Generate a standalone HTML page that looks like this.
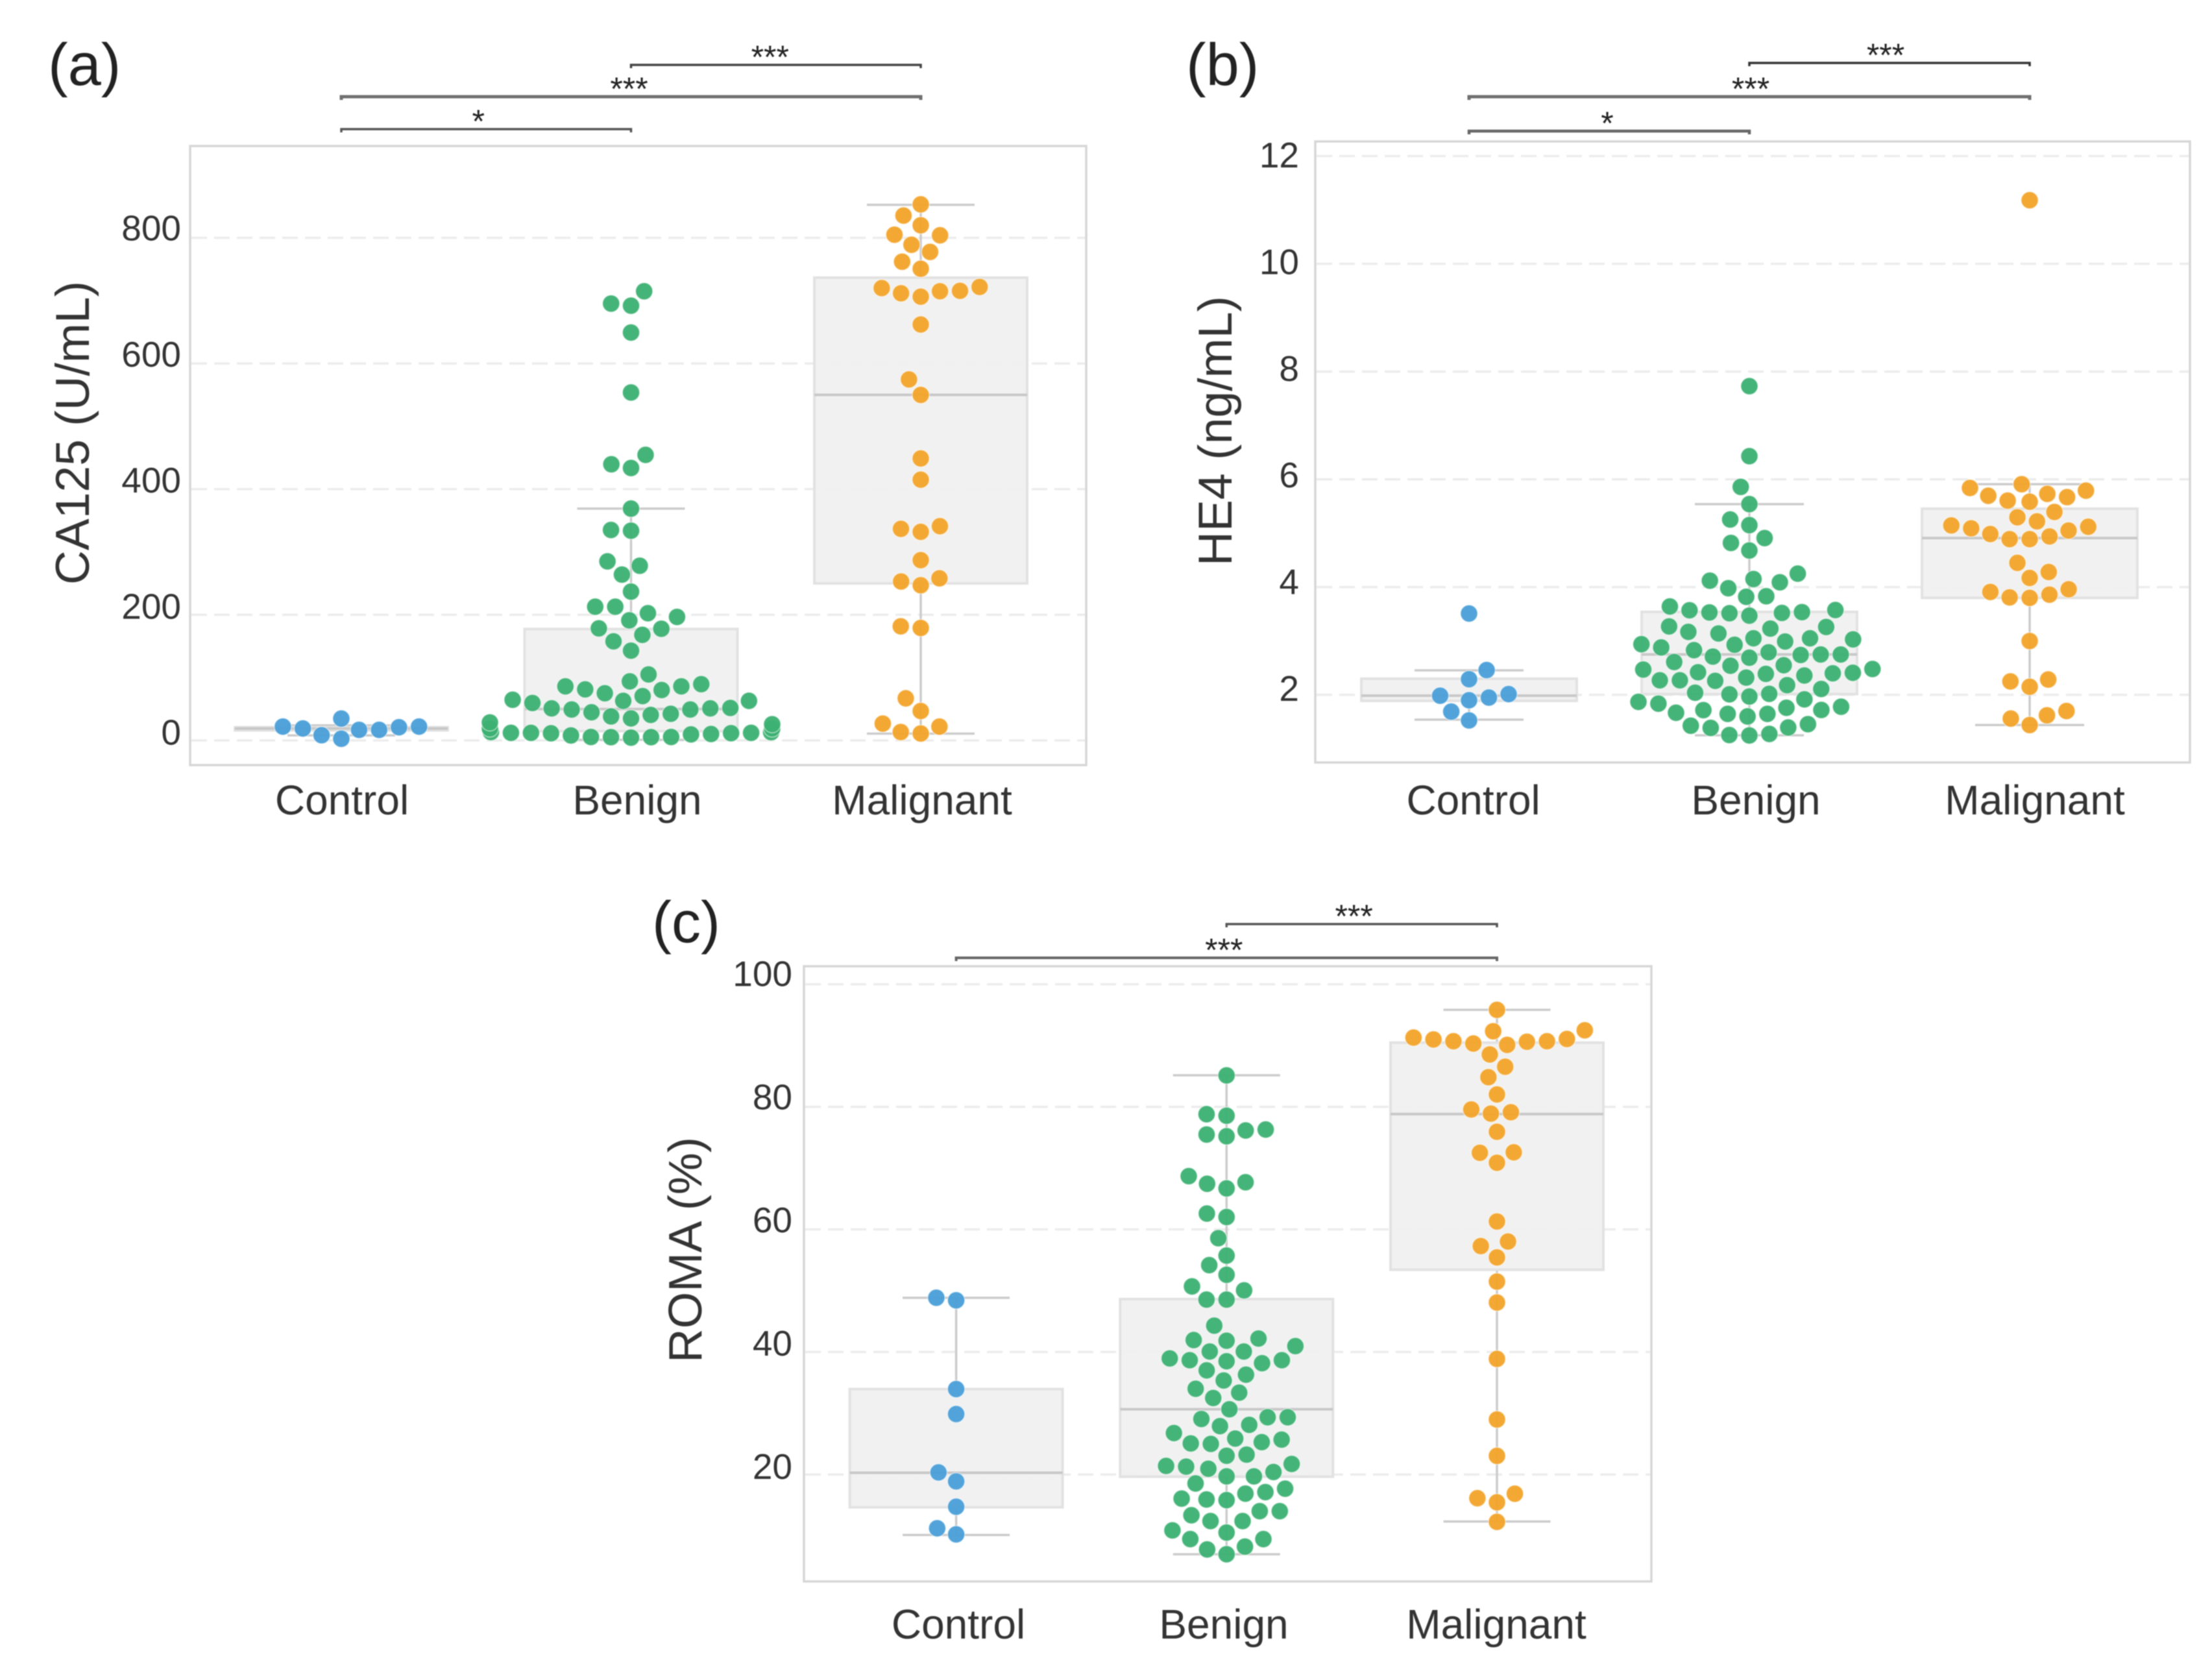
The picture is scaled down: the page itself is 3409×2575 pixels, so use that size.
<!DOCTYPE html>
<html lang="en">
<head>
<meta charset="utf-8">
<title>CA125, HE4 and ROMA by group</title>
<style>
html,body{margin:0;padding:0;background:#fff;}
#figure{display:block;width:3409px;height:2575px;filter:blur(0.8px);font-family:"Liberation Sans",sans-serif;}
</style>
</head>
<body>
<svg id="figure" xmlns="http://www.w3.org/2000/svg" width="3409" height="2575" viewBox="0 0 3409 2575">
<rect x="0" y="0" width="3409" height="2575" fill="#fff"/>
<text x="74" y="131" font-size="92" fill="#222">(a)</text>
<text x="1828" y="131" font-size="92" fill="#222">(b)</text>
<text x="1005" y="1452" font-size="90" fill="#222">(c)</text>
<text transform="translate(137,667) rotate(-90)" text-anchor="middle" font-size="73" fill="#333" textLength="468" lengthAdjust="spacingAndGlyphs">CA125 (U/mL)</text>
<text transform="translate(1898,664) rotate(-90)" text-anchor="middle" font-size="73" fill="#333" textLength="416" lengthAdjust="spacingAndGlyphs">HE4 (ng/mL)</text>
<text transform="translate(1081,1926) rotate(-90)" text-anchor="middle" font-size="72" fill="#333" textLength="348" lengthAdjust="spacingAndGlyphs">ROMA (%)</text>
</svg>
<script>
const categories = ['Control', 'Benign', 'Malignant'];
const sigPairs = [[0, 1, '*'], [0, 2, '***'], [1, 2, '***']];
const romaSigPairs = [[0, 2, '***'], [1, 2, '***']];

const ca125Ticks = [0, 200, 400, 600, 800];
const he4Ticks = [2, 4, 6, 8, 10, 12];
const romaTicks = [20, 40, 60, 80, 100];

/* box summaries: low whisker, Q1, median, Q3, high whisker */
const ca125BoxControl = [8, 16, 19, 21, 24];
const ca125BoxBenign = [1, 14.8, 50, 177.3, 369];
const ca125BoxMalignant = [10.8, 250, 550, 736.6, 852.6];
const he4BoxControl = [1.54, 1.89, 1.985, 2.30, 2.455];
const he4BoxBenign = [1.25, 2.015, 2.75, 3.54, 5.54];
const he4BoxMalignant = [1.44, 3.80, 4.91, 5.455, 5.91];
const romaBoxControl = [10.15, 14.66, 20.29, 33.95, 48.85];
const romaBoxBenign = [7.0, 19.65, 30.66, 48.64, 85.15];
const romaBoxMalignant = [12.34, 53.42, 78.83, 90.48, 95.84];

/* individual measurements */
const ca125Control = [2.7, 8.3, 16.8, 16.8, 19, 21, 22, 22, 34.8];
const ca125Benign = [4.5, 5.2, 5.2, 5.5, 5.5, 7.9, 9.6, 10.3, 11.4, 12.1, 12.1, 12.1, 13.1, 13.3, 11.6,
  18.9, 18.9, 28.6, 25.8,
  35, 38.2, 40.6, 42.4, 44.8, 49.2, 49.2, 51, 51, 51.7, 59.6, 63, 64.7,
  63, 70.6, 75.1, 80.2, 81.3, 86.1, 86.1, 89.5, 94, 105,
  142.9, 157.7, 168, 177.7, 178.4, 191.1, 196.6, 202.5, 212.8, 212.8, 236.9,
  264, 278, 285, 333.8, 335, 369, 433.6, 439.6, 454.5, 553.8, 649.3, 692, 695.4, 715];
const ca125Malignant = [11, 13.4, 22, 26.8, 46.8, 67, 179, 181.6, 247, 253, 258, 287, 332, 336.8, 341, 415, 448.9, 550, 574.6, 662,
  706.3, 711.8, 715, 715.6, 720, 721.8, 750.7, 762, 777.6, 789, 804, 805, 819.9, 835.4, 853.3];

const he4Control = [1.526, 1.69, 1.9, 1.95, 1.985, 2.015, 2.29, 2.46, 3.51];
const he4Benign = [1.247, 1.255, 1.275, 1.387, 1.395, 1.428, 1.456, 1.6, 1.648, 1.648, 1.668, 1.717, 1.72, 1.76, 1.78, 1.837, 1.87, 1.917,
  1.97, 2.01, 2.02, 2.04, 2.11, 2.18, 2.26, 2.27, 2.27, 2.32, 2.36, 2.39, 2.40, 2.41, 2.42, 2.47, 2.48, 2.54, 2.55, 2.61,
  2.69, 2.71, 2.74, 2.75, 2.75, 2.79, 2.83, 2.88, 2.93, 2.94, 2.99, 3.03, 3.05, 3.05, 3.14, 3.17, 3.23, 3.26, 3.27,
  3.47, 3.515, 3.52, 3.53, 3.535, 3.57, 3.575, 3.64, 3.82, 3.83, 3.98, 4.09, 4.12, 4.15, 4.25,
  4.68, 4.82, 4.91, 5.15, 5.255, 5.54, 5.86, 6.43, 7.73];
const he4Malignant = [1.44, 1.56, 1.62, 1.70, 2.15, 2.25, 2.285, 3.0, 3.80, 3.81, 3.86, 3.91, 3.96, 4.17, 4.28, 4.45,
  4.89, 4.89, 4.94, 4.985, 5.05, 5.09, 5.12, 5.145, 5.22, 5.295, 5.395, 5.585, 5.605, 5.67, 5.695, 5.73, 5.79, 5.84, 5.91, 11.18];

const romaControl = [10.24, 11.24, 14.75, 18.89, 20.36, 29.87, 33.95, 48.43, 48.85];
const romaBenign = [7.0, 7.78, 8.24, 9.47, 9.47, 10.54, 10.89, 12.41, 12.41, 13.36, 14.03, 14.03, 15.83, 15.94, 16.08, 16.89, 17.14, 17.7,
  18.55, 19.71, 19.71, 20.42, 20.95, 21.3, 21.41, 21.73, 23.07, 23.25, 25.0, 25.08, 25.29, 25.7, 25.88, 26.77, 27.9, 28.11, 29.07, 29.35, 29.35,
  30.65, 32.49, 33.37, 34.0, 35.35, 36.3, 37.0, 38.17, 38.49, 38.66, 38.66, 38.95, 40.08, 40.08, 40.96, 41.84, 41.95, 42.2, 44.3,
  48.55, 48.55, 50.06, 50.7, 52.6, 54.17, 55.73, 58.57, 62.02, 62.59, 66.7, 67.45, 67.7, 68.7, 75.2, 75.49, 76.15, 76.3, 78.56, 78.8, 85.13];
const romaMalignant = [12.28, 15.47, 16.14, 16.88, 23.05, 28.99, 38.87, 48.07, 51.49, 55.43, 57.28, 58.03, 61.3, 70.88, 72.51, 72.58, 75.93,
  78.9, 79.12, 79.57, 82.02, 84.84, 86.55, 88.55, 90.11, 90.33, 90.63, 90.71, 90.71, 91.0, 91.08, 91.3, 92.34, 92.49, 95.83];

/* HE4 values where the swarm sits on the right side when both sides are equally close */
const he4RightTies = [2.46, 3.98, 5.22];

const svg = document.getElementById('figure');
const NS = 'http://www.w3.org/2000/svg';
const GROUP_COLORS = ['#4a9fd8', '#3db172', '#f3a42c'];
const SWARM_DIAMETER = 29.43;

function make(tag, attrs, parent) {
  const el = document.createElementNS(NS, tag);
  for (const k in attrs) el.setAttribute(k, attrs[k]);
  parent.appendChild(el);
  return el;
}

function linear(d0, d1, r0, r1) {
  return function (v) { return r0 + (v - d0) * (r1 - r0) / (d1 - d0); };
}

/* Same placement rule as a seaborn swarm plot: lowest value first,
   each point goes to the closest-to-centre free slot. */
function beeswarm(values, yScale, cx, halfWidth, rightTies) {
  const sorted = values.slice().sort(function (a, b) { return a - b; });
  const placed = [];
  sorted.forEach(function (v) {
    const y = yScale(v);
    const neighbors = [];
    for (let i = 0; i < placed.length; i++) {
      if (Math.abs(placed[i].y - y) < SWARM_DIAMETER) neighbors.push(placed[i]);
    }
    const candidates = [cx];
    let leftFirst = true;
    neighbors.forEach(function (n) {
      const dy = y - n.y;
      const dx = Math.sqrt(Math.max(SWARM_DIAMETER * SWARM_DIAMETER - dy * dy, 0)) * 1.05;
      if (leftFirst) { candidates.push(n.x - dx, n.x + dx); }
      else { candidates.push(n.x + dx, n.x - dx); }
      leftFirst = !leftFirst;
    });
    const preferRight = rightTies.indexOf(v) !== -1;
    const ordered = candidates.slice().sort(function (a, b) {
      const d = Math.abs(a - cx) - Math.abs(b - cx);
      if (preferRight && Math.abs(d) < 1e-6) return b - a;
      return d;
    });
    let chosen = ordered[ordered.length - 1];
    for (let c = 0; c < ordered.length; c++) {
      const x = ordered[c];
      const free = neighbors.every(function (n) {
        return (n.x - x) * (n.x - x) + (n.y - y) * (n.y - y) >= SWARM_DIAMETER * SWARM_DIAMETER;
      });
      if (free) { chosen = x; break; }
    }
    placed.push({ x: chosen, y: y, v: v });
  });
  placed.forEach(function (p) {
    p.x = Math.min(cx + halfWidth, Math.max(cx - halfWidth, p.x));
  });
  return placed;
}

function drawPanel(cfg) {
  const g = make('g', {}, svg);
  
  
  const f = cfg.frame;
  const yScale = linear(cfg.domain[0], cfg.domain[1], cfg.range[0], cfg.range[1]);
  const labelScale = linear(cfg.domain[0], cfg.domain[1], cfg.labelRange[0], cfg.labelRange[1]);
  const xScale = function (i) { return cfg.x0 + i * cfg.step; };

  const frame = make('rect', { x: f.l, y: f.t, width: f.r - f.l, height: f.b - f.t, fill: '#fff', stroke: '#d6d6d6', 'stroke-width': 3.5 }, g);
  
  

  cfg.ticks.forEach(function (t) {
    const y = yScale(t);
    const grid = make('line', { x1: f.l + 2, x2: f.r - 2, y1: y, y2: y, stroke: '#ececec', 'stroke-width': 3.5, 'stroke-dasharray': '24 11' }, g);
    
    
    const lab = make('text', { x: cfg.labelX, y: labelScale(t), 'text-anchor': 'end', 'font-size': 55, fill: '#333' }, g);
    
    
    lab.textContent = String(t);
  });

  categories.forEach(function (cat, i) {
    const cx = xScale(i);
    const b = cfg.boxes[i];
    const hw = cfg.boxHalf;
    const cap = cfg.capHalf;
    const lineStyle = { stroke: '#cbcbcb', 'stroke-width': 3.5 };

    const wl = make('line', Object.assign({ x1: cx, x2: cx, y1: yScale(b[0]), y2: yScale(b[1]) }, lineStyle), g);
    
    
    const wh = make('line', Object.assign({ x1: cx, x2: cx, y1: yScale(b[3]), y2: yScale(b[4]) }, lineStyle), g);
    
    
    const cl = make('line', Object.assign({ x1: cx - cap, x2: cx + cap, y1: yScale(b[0]), y2: yScale(b[0]) }, lineStyle), g);
    
    
    const ch = make('line', Object.assign({ x1: cx - cap, x2: cx + cap, y1: yScale(b[4]), y2: yScale(b[4]) }, lineStyle), g);
    
    

    const box = make('rect', { x: cx - hw, y: yScale(b[3]), width: 2 * hw, height: yScale(b[1]) - yScale(b[3]), fill: '#f0f0f0', 'fill-opacity': 0.92, stroke: '#e2e2e2', 'stroke-width': 4 }, g);
    
    
    const med = make('line', { x1: cx - hw, x2: cx + hw, y1: yScale(b[2]), y2: yScale(b[2]), stroke: '#c8c8c8', 'stroke-width': 4 }, g);
    
    

    const points = beeswarm(cfg.series[i], yScale, cx, cfg.gutter, cfg.rightTies);
    points.forEach(function (p) {
      const dot = make('circle', { cx: p.x, cy: p.y, r: 13.2, fill: GROUP_COLORS[i], 'fill-opacity': 0.96, stroke: '#fff', 'stroke-opacity': 0.55, 'stroke-width': 1.5 }, g);
      
      
    });

    const xl = make('text', { x: cfg.labelCenters[i], y: cfg.catBaseline, 'text-anchor': 'middle', 'font-size': 64, fill: '#333' }, g);
    
    
    xl.textContent = cat;
  });

  cfg.pairs.forEach(function (pair, i) {
    const a = xScale(pair[0]);
    const z = xScale(pair[1]);
    const lv = cfg.bracketY[i];
    const br = make('path', { d: 'M' + a + ' ' + (lv + 5) + 'V' + lv + 'H' + z + 'V' + (lv + 5), fill: 'none', stroke: cfg.bracketColor[i], 'stroke-width': cfg.bracketWidth[i] }, g);
    
    
    const star = make('text', { x: (a + z) / 2 + cfg.starShift[i], y: lv + 5, 'text-anchor': 'middle', 'font-size': 50, fill: '#222' }, g);
    
    
    star.textContent = pair[2];
  });
}

drawPanel({
  name: 'ca125',
  frame: { l: 293, t: 225, r: 1674, b: 1179 },
  domain: [0, 800], range: [1141, 366.5], labelRange: [1147.5, 370.5], labelX: 279,
  ticks: ca125Ticks,
  x0: 526, step: 446.5, boxHalf: 164, capHalf: 83, gutter: 217.5,
  labelCenters: [527, 982, 1421], catBaseline: 1255,
  boxes: [ca125BoxControl, ca125BoxBenign, ca125BoxMalignant],
  series: [ca125Control, ca125Benign, ca125Malignant],
  rightTies: [],
  pairs: sigPairs,
  bracketY: [199, 149, 100],
  bracketColor: ['#555', '#707070', '#444'],
  bracketWidth: [3.5, 5, 3.5],
  starShift: [-12, -3, -9]
});

drawPanel({
  name: 'he4',
  frame: { l: 2027, t: 218, r: 3375, b: 1175 },
  domain: [2, 12], range: [1070.8, 240.5], labelRange: [1080, 258], labelX: 2002,
  ticks: he4Ticks,
  x0: 2264, step: 432, boxHalf: 166, capHalf: 84, gutter: 300,
  labelCenters: [2270.6, 2706, 3136], catBaseline: 1255,
  boxes: [he4BoxControl, he4BoxBenign, he4BoxMalignant],
  series: [he4Control, he4Benign, he4Malignant],
  rightTies: he4RightTies,
  pairs: sigPairs,
  bracketY: [202, 149, 97],
  bracketColor: ['#666', '#707070', '#333'],
  bracketWidth: [4.5, 5, 3.5],
  starShift: [-3, 2, -6]
});

drawPanel({
  name: 'roma',
  frame: { l: 1239, t: 1489, r: 2545, b: 2437 },
  domain: [20, 100], range: [2272.3, 1516.8], labelRange: [2278.8, 1519.6], labelX: 1221,
  ticks: romaTicks,
  x0: 1473.6, step: 416.7, boxHalf: 164, capHalf: 82.5, gutter: 300,
  labelCenters: [1477, 1886, 2306], catBaseline: 2525,
  boxes: [romaBoxControl, romaBoxBenign, romaBoxMalignant],
  series: [romaControl, romaBenign, romaMalignant],
  rightTies: [],
  pairs: romaSigPairs,
  bracketY: [1476, 1424],
  bracketColor: ['#666', '#555'],
  bracketWidth: [4, 3.5],
  starShift: [-4, -12]
});
</script>
</body>
</html>
